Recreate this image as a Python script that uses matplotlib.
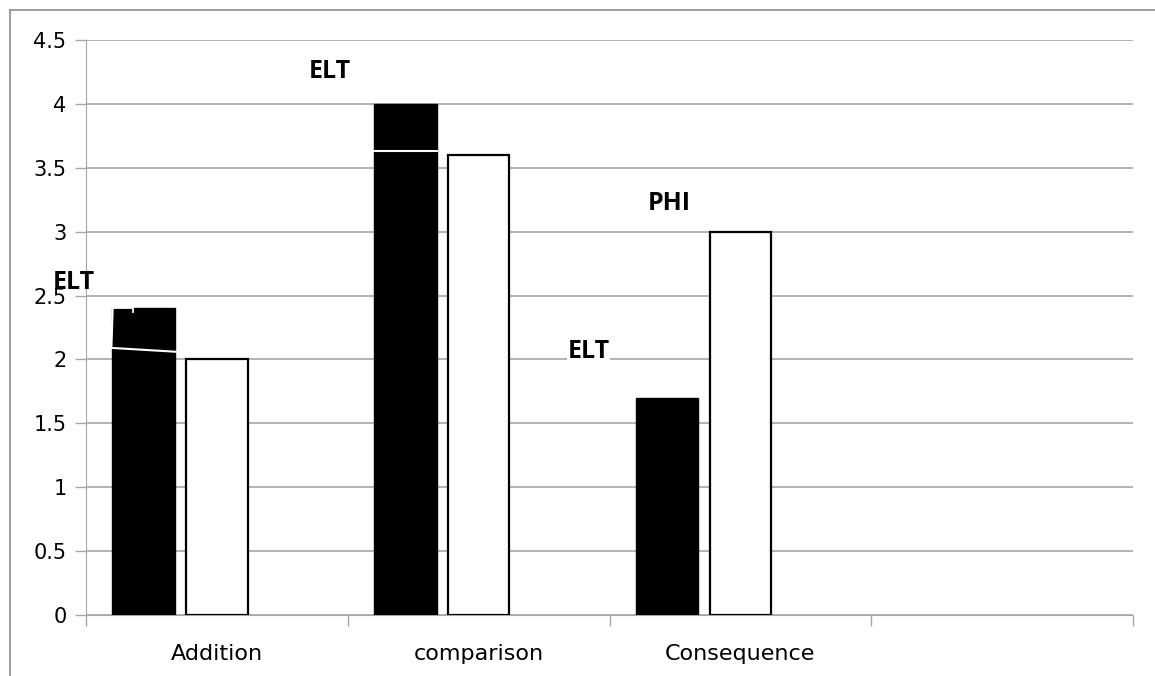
import numpy as np
import matplotlib
matplotlib.use("Agg")
import matplotlib.pyplot as plt
from matplotlib.lines import Line2D

categories = ['Addition', 'comparison', 'Consequence']
elt_values = [2.4, 4.0, 1.7]
phi_values = [2.0, 3.6, 3.0]
y_ticks = [0, 0.5, 1, 1.5, 2, 2.5, 3, 3.5, 4, 4.5]
y_tick_labels = ['0', '0.5', '1', '1.5', '2', '2.5', '3', '3.5', '4', '4.5']
# floating labels (x in category units, y in data units)
labels = [('ELT', 0.93, 4.25), ('ELT', -0.045, 2.6), ('PHI', 2.23, 3.22), ('ELT', 1.92, 2.06)]

plt.rcParams['font.family'] = ['DejaVu Sans']
grid_col = '#a6a6a6'

fig = plt.figure(figsize=(11.55, 6.76), dpi=100)
ax = fig.add_axes([86 / 1155, 1 - 615 / 676, (1133 - 86) / 1155, (615 - 40) / 676])

x = np.arange(len(categories))
ax.bar(x + 0.22, elt_values, width=0.24, color='black', edgecolor='black', zorder=3)
ax.bar(x + 0.50, phi_values, width=0.235, color='white', edgecolor='black', linewidth=1.6, zorder=3)

# white marks left on the black bars
ax.plot([1.10, 1.34], [3.63, 3.63], color='white', lw=1.5, zorder=4)
ax.plot([0.10, 0.345], [2.09, 2.06], color='white', lw=1.5, zorder=4)
ax.plot([0.097, 0.102], [2.09, 2.40], color='white', lw=1.5, zorder=4)
ax.plot([0.102, 0.179, 0.179], [2.40, 2.40, 2.375], color='white', lw=1.3, zorder=4)

for i, (txt, lx, ly) in enumerate(labels):
    # the label near the y axis sits over the "2.5" tick label, as in the source
    box = None if lx < 0 else dict(facecolor='white', edgecolor='none', pad=0.5)
    ax.text(lx, ly, txt, ha='center', va='center', fontsize=18, fontweight='bold',
            family=['Open Sans', 'DejaVu Sans'], bbox=box, zorder=5, clip_on=False)

ax.set_xlim(0, 4)
ax.set_ylim(0, 4.5)
ax.set_yticks(y_ticks)
ax.set_yticklabels(y_tick_labels, fontsize=15)
ax.set_xticks([0, 1, 2, 3, 4])
ax.set_xticklabels([])
ax.set_xticks(x + 0.5, minor=True)
ax.set_xticklabels(categories, minor=True, fontsize=16)
ax.tick_params(axis='x', which='minor', length=0, pad=21)
ax.tick_params(axis='x', which='major', length=8, color=grid_col, width=1)
ax.tick_params(axis='y', length=8, color=grid_col, width=1, pad=6)
ax.yaxis.grid(True, color=grid_col, lw=1.2, zorder=0)
ax.set_axisbelow(True)
for side in ['top', 'right']:
    ax.spines[side].set_visible(False)
ax.spines['left'].set_color(grid_col)
ax.spines['bottom'].set_color(grid_col)

# outer frame of the chart
fig.add_artist(Line2D([10 / 1155, 10 / 1155], [0, 1 - 10 / 676], color='#8c8c8c', lw=1.2))
fig.add_artist(Line2D([10 / 1155, 1], [1 - 10 / 676, 1 - 10 / 676], color='#8c8c8c', lw=1.2))

fig.savefig('out.png', dpi=100)
